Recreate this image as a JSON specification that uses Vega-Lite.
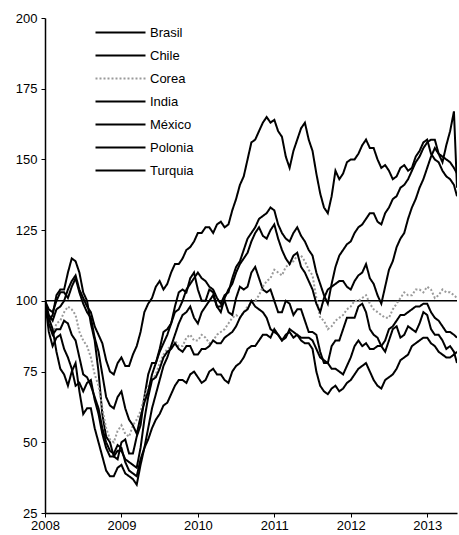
{
  "$schema": "https://vega.github.io/schema/vega-lite/v6.json",
  "width": 412,
  "height": 495,
  "autosize": "none",
  "padding": {"left": 45, "top": 18, "right": 2, "bottom": 22},
  "background": "white",
  "config": {
    "view": {"stroke": null},
    "font": "Liberation Sans",
    "axis": {"grid": false, "domainColor": "black", "domainWidth": 1.5, "tickColor": "black", "tickSize": 4, "labelColor": "black", "labelFontSize": 13, "labelFont": "Liberation Sans", "title": null},
    "legend": {"orient": "none", "legendX": 62, "legendY": 1, "symbolType": "M-2,0H2", "symbolSize": 625, "symbolStrokeWidth": 2, "labelFontSize": 13, "labelFont": "Liberation Sans", "labelColor": "black", "rowPadding": 2, "labelOffset": 16}
  },
  "datasets": {
    "series": [
      {"c":"Brasil","t":2008.0,"v":100},{"c":"Brasil","t":2008.1,"v":95},{"c":"Brasil","t":2008.2,"v":104},{"c":"Brasil","t":2008.3,"v":110},{"c":"Brasil","t":2008.4,"v":114},{"c":"Brasil","t":2008.5,"v":103},{"c":"Brasil","t":2008.6,"v":92},{"c":"Brasil","t":2008.7,"v":75},{"c":"Brasil","t":2008.8,"v":52},{"c":"Brasil","t":2008.9,"v":45},
      {"c":"Brasil","t":2009.0,"v":50},{"c":"Brasil","t":2009.1,"v":46},{"c":"Brasil","t":2009.2,"v":52},{"c":"Brasil","t":2009.3,"v":66},{"c":"Brasil","t":2009.4,"v":78},{"c":"Brasil","t":2009.5,"v":83},{"c":"Brasil","t":2009.6,"v":90},{"c":"Brasil","t":2009.7,"v":98},{"c":"Brasil","t":2009.8,"v":104},{"c":"Brasil","t":2009.9,"v":108},
      {"c":"Brasil","t":2010.0,"v":104},{"c":"Brasil","t":2010.1,"v":100},{"c":"Brasil","t":2010.2,"v":103},{"c":"Brasil","t":2010.3,"v":98},{"c":"Brasil","t":2010.4,"v":96},{"c":"Brasil","t":2010.5,"v":101},{"c":"Brasil","t":2010.6,"v":104},{"c":"Brasil","t":2010.7,"v":110},{"c":"Brasil","t":2010.8,"v":108},{"c":"Brasil","t":2010.9,"v":103},
      {"c":"Brasil","t":2011.0,"v":100},{"c":"Brasil","t":2011.1,"v":96},{"c":"Brasil","t":2011.2,"v":99},{"c":"Brasil","t":2011.3,"v":97},{"c":"Brasil","t":2011.4,"v":93},{"c":"Brasil","t":2011.5,"v":89},{"c":"Brasil","t":2011.6,"v":82},{"c":"Brasil","t":2011.7,"v":78},{"c":"Brasil","t":2011.8,"v":86},{"c":"Brasil","t":2011.9,"v":90},
      {"c":"Brasil","t":2012.0,"v":94},{"c":"Brasil","t":2012.1,"v":98},{"c":"Brasil","t":2012.2,"v":96},{"c":"Brasil","t":2012.3,"v":88},{"c":"Brasil","t":2012.4,"v":84},{"c":"Brasil","t":2012.5,"v":86},{"c":"Brasil","t":2012.6,"v":91},{"c":"Brasil","t":2012.7,"v":88},{"c":"Brasil","t":2012.8,"v":90},{"c":"Brasil","t":2012.9,"v":92},
      {"c":"Brasil","t":2013.0,"v":95},{"c":"Brasil","t":2013.1,"v":88},{"c":"Brasil","t":2013.2,"v":86},{"c":"Brasil","t":2013.3,"v":84},{"c":"Brasil","t":2013.39,"v":78},
      {"c":"Brasil","t":2008.05,"v":93},{"c":"Brasil","t":2008.15,"v":102},{"c":"Brasil","t":2008.25,"v":104},{"c":"Brasil","t":2008.35,"v":115},{"c":"Brasil","t":2008.45,"v":110},{"c":"Brasil","t":2008.55,"v":100},{"c":"Brasil","t":2008.65,"v":86},{"c":"Brasil","t":2008.75,"v":60},{"c":"Brasil","t":2008.85,"v":50},{"c":"Brasil","t":2008.95,"v":44},
      {"c":"Brasil","t":2009.05,"v":51},{"c":"Brasil","t":2009.15,"v":46},{"c":"Brasil","t":2009.25,"v":56},{"c":"Brasil","t":2009.35,"v":74},{"c":"Brasil","t":2009.45,"v":78},{"c":"Brasil","t":2009.55,"v":89},{"c":"Brasil","t":2009.65,"v":92},{"c":"Brasil","t":2009.75,"v":103},{"c":"Brasil","t":2009.85,"v":103},{"c":"Brasil","t":2009.95,"v":110},
      {"c":"Brasil","t":2010.05,"v":100},{"c":"Brasil","t":2010.15,"v":104},{"c":"Brasil","t":2010.25,"v":98},{"c":"Brasil","t":2010.35,"v":100},{"c":"Brasil","t":2010.45,"v":95},{"c":"Brasil","t":2010.55,"v":105},{"c":"Brasil","t":2010.65,"v":105},{"c":"Brasil","t":2010.75,"v":112},{"c":"Brasil","t":2010.85,"v":104},{"c":"Brasil","t":2010.95,"v":104},
      {"c":"Brasil","t":2011.05,"v":96},{"c":"Brasil","t":2011.15,"v":100},{"c":"Brasil","t":2011.25,"v":95},{"c":"Brasil","t":2011.35,"v":97},{"c":"Brasil","t":2011.45,"v":89},{"c":"Brasil","t":2011.55,"v":88},{"c":"Brasil","t":2011.65,"v":78},{"c":"Brasil","t":2011.75,"v":84},{"c":"Brasil","t":2011.85,"v":86},{"c":"Brasil","t":2011.95,"v":94},
      {"c":"Brasil","t":2012.05,"v":94},{"c":"Brasil","t":2012.15,"v":99},{"c":"Brasil","t":2012.25,"v":90},{"c":"Brasil","t":2012.35,"v":87},{"c":"Brasil","t":2012.45,"v":82},{"c":"Brasil","t":2012.55,"v":90},{"c":"Brasil","t":2012.65,"v":87},{"c":"Brasil","t":2012.75,"v":91},{"c":"Brasil","t":2012.85,"v":89},{"c":"Brasil","t":2012.95,"v":96},
      {"c":"Brasil","t":2013.05,"v":90},{"c":"Brasil","t":2013.15,"v":88},{"c":"Brasil","t":2013.25,"v":83},{"c":"Brasil","t":2013.35,"v":82},

      {"c":"Chile","t":2008.0,"v":100},{"c":"Chile","t":2008.1,"v":93},{"c":"Chile","t":2008.2,"v":98},{"c":"Chile","t":2008.3,"v":104},{"c":"Chile","t":2008.4,"v":109},{"c":"Chile","t":2008.5,"v":101},{"c":"Chile","t":2008.6,"v":96},{"c":"Chile","t":2008.7,"v":88},{"c":"Chile","t":2008.8,"v":79},{"c":"Chile","t":2008.9,"v":74},
      {"c":"Chile","t":2009.0,"v":80},{"c":"Chile","t":2009.1,"v":77},{"c":"Chile","t":2009.2,"v":84},{"c":"Chile","t":2009.3,"v":96},{"c":"Chile","t":2009.4,"v":101},{"c":"Chile","t":2009.5,"v":107},{"c":"Chile","t":2009.6,"v":106},{"c":"Chile","t":2009.7,"v":113},{"c":"Chile","t":2009.8,"v":115},{"c":"Chile","t":2009.9,"v":119},
      {"c":"Chile","t":2010.0,"v":124},{"c":"Chile","t":2010.1,"v":126},{"c":"Chile","t":2010.2,"v":124},{"c":"Chile","t":2010.3,"v":128},{"c":"Chile","t":2010.4,"v":127},{"c":"Chile","t":2010.5,"v":136},{"c":"Chile","t":2010.6,"v":144},{"c":"Chile","t":2010.7,"v":156},{"c":"Chile","t":2010.8,"v":160},{"c":"Chile","t":2010.9,"v":165},
      {"c":"Chile","t":2011.0,"v":164},{"c":"Chile","t":2011.1,"v":158},{"c":"Chile","t":2011.2,"v":147},{"c":"Chile","t":2011.3,"v":157},{"c":"Chile","t":2011.4,"v":163},{"c":"Chile","t":2011.5,"v":153},{"c":"Chile","t":2011.6,"v":138},{"c":"Chile","t":2011.7,"v":131},{"c":"Chile","t":2011.8,"v":146},{"c":"Chile","t":2011.9,"v":145},
      {"c":"Chile","t":2012.0,"v":150},{"c":"Chile","t":2012.1,"v":152},{"c":"Chile","t":2012.2,"v":157},{"c":"Chile","t":2012.3,"v":154},{"c":"Chile","t":2012.4,"v":147},{"c":"Chile","t":2012.5,"v":146},{"c":"Chile","t":2012.6,"v":144},{"c":"Chile","t":2012.7,"v":148},{"c":"Chile","t":2012.8,"v":147},{"c":"Chile","t":2012.9,"v":153},
      {"c":"Chile","t":2013.0,"v":157},{"c":"Chile","t":2013.1,"v":150},{"c":"Chile","t":2013.2,"v":146},{"c":"Chile","t":2013.3,"v":143},{"c":"Chile","t":2013.39,"v":137},
      {"c":"Chile","t":2008.05,"v":95},{"c":"Chile","t":2008.15,"v":97},{"c":"Chile","t":2008.25,"v":100},{"c":"Chile","t":2008.35,"v":107},{"c":"Chile","t":2008.45,"v":104},{"c":"Chile","t":2008.55,"v":98},{"c":"Chile","t":2008.65,"v":91},{"c":"Chile","t":2008.75,"v":85},{"c":"Chile","t":2008.85,"v":75},{"c":"Chile","t":2008.95,"v":78},
      {"c":"Chile","t":2009.05,"v":77},{"c":"Chile","t":2009.15,"v":81},{"c":"Chile","t":2009.25,"v":89},{"c":"Chile","t":2009.35,"v":99},{"c":"Chile","t":2009.45,"v":105},{"c":"Chile","t":2009.55,"v":104},{"c":"Chile","t":2009.65,"v":110},{"c":"Chile","t":2009.75,"v":113},{"c":"Chile","t":2009.85,"v":118},{"c":"Chile","t":2009.95,"v":121},
      {"c":"Chile","t":2010.05,"v":124},{"c":"Chile","t":2010.15,"v":126},{"c":"Chile","t":2010.25,"v":127},{"c":"Chile","t":2010.35,"v":126},{"c":"Chile","t":2010.45,"v":132},{"c":"Chile","t":2010.55,"v":141},{"c":"Chile","t":2010.65,"v":150},{"c":"Chile","t":2010.75,"v":157},{"c":"Chile","t":2010.85,"v":163},{"c":"Chile","t":2010.95,"v":163},
      {"c":"Chile","t":2011.05,"v":160},{"c":"Chile","t":2011.15,"v":151},{"c":"Chile","t":2011.25,"v":153},{"c":"Chile","t":2011.35,"v":161},{"c":"Chile","t":2011.45,"v":157},{"c":"Chile","t":2011.55,"v":145},{"c":"Chile","t":2011.65,"v":133},{"c":"Chile","t":2011.75,"v":137},{"c":"Chile","t":2011.85,"v":143},{"c":"Chile","t":2011.95,"v":149},
      {"c":"Chile","t":2012.05,"v":150},{"c":"Chile","t":2012.15,"v":155},{"c":"Chile","t":2012.25,"v":154},{"c":"Chile","t":2012.35,"v":150},{"c":"Chile","t":2012.45,"v":148},{"c":"Chile","t":2012.55,"v":143},{"c":"Chile","t":2012.65,"v":147},{"c":"Chile","t":2012.75,"v":146},{"c":"Chile","t":2012.85,"v":151},{"c":"Chile","t":2012.95,"v":156},
      {"c":"Chile","t":2013.05,"v":152},{"c":"Chile","t":2013.15,"v":149},{"c":"Chile","t":2013.25,"v":144},{"c":"Chile","t":2013.35,"v":141},

      {"c":"Corea","t":2008.0,"v":100},{"c":"Corea","t":2008.1,"v":88},{"c":"Corea","t":2008.2,"v":93},{"c":"Corea","t":2008.3,"v":98},{"c":"Corea","t":2008.4,"v":95},{"c":"Corea","t":2008.5,"v":86},{"c":"Corea","t":2008.6,"v":80},{"c":"Corea","t":2008.7,"v":70},{"c":"Corea","t":2008.8,"v":55},{"c":"Corea","t":2008.9,"v":50},
      {"c":"Corea","t":2009.0,"v":56},{"c":"Corea","t":2009.1,"v":52},{"c":"Corea","t":2009.2,"v":58},{"c":"Corea","t":2009.3,"v":66},{"c":"Corea","t":2009.4,"v":72},{"c":"Corea","t":2009.5,"v":78},{"c":"Corea","t":2009.6,"v":83},{"c":"Corea","t":2009.7,"v":86},{"c":"Corea","t":2009.8,"v":84},{"c":"Corea","t":2009.9,"v":88},
      {"c":"Corea","t":2010.0,"v":86},{"c":"Corea","t":2010.1,"v":87},{"c":"Corea","t":2010.2,"v":86},{"c":"Corea","t":2010.3,"v":89},{"c":"Corea","t":2010.4,"v":92},{"c":"Corea","t":2010.5,"v":95},{"c":"Corea","t":2010.6,"v":96},{"c":"Corea","t":2010.7,"v":99},{"c":"Corea","t":2010.8,"v":102},{"c":"Corea","t":2010.9,"v":107},
      {"c":"Corea","t":2011.0,"v":111},{"c":"Corea","t":2011.1,"v":109},{"c":"Corea","t":2011.2,"v":113},{"c":"Corea","t":2011.3,"v":116},{"c":"Corea","t":2011.4,"v":114},{"c":"Corea","t":2011.5,"v":109},{"c":"Corea","t":2011.6,"v":94},{"c":"Corea","t":2011.7,"v":90},{"c":"Corea","t":2011.8,"v":93},{"c":"Corea","t":2011.9,"v":95},
      {"c":"Corea","t":2012.0,"v":98},{"c":"Corea","t":2012.1,"v":100},{"c":"Corea","t":2012.2,"v":102},{"c":"Corea","t":2012.3,"v":97},{"c":"Corea","t":2012.4,"v":95},{"c":"Corea","t":2012.5,"v":94},{"c":"Corea","t":2012.6,"v":99},{"c":"Corea","t":2012.7,"v":103},{"c":"Corea","t":2012.8,"v":102},{"c":"Corea","t":2012.9,"v":104},
      {"c":"Corea","t":2013.0,"v":105},{"c":"Corea","t":2013.1,"v":101},{"c":"Corea","t":2013.2,"v":104},{"c":"Corea","t":2013.3,"v":103},{"c":"Corea","t":2013.39,"v":101},
      {"c":"Corea","t":2008.05,"v":92},{"c":"Corea","t":2008.15,"v":92},{"c":"Corea","t":2008.25,"v":96},{"c":"Corea","t":2008.35,"v":97},{"c":"Corea","t":2008.45,"v":89},{"c":"Corea","t":2008.55,"v":84},{"c":"Corea","t":2008.65,"v":74},{"c":"Corea","t":2008.75,"v":62},{"c":"Corea","t":2008.85,"v":51},{"c":"Corea","t":2008.95,"v":54},
      {"c":"Corea","t":2009.05,"v":53},{"c":"Corea","t":2009.15,"v":56},{"c":"Corea","t":2009.25,"v":61},{"c":"Corea","t":2009.35,"v":70},{"c":"Corea","t":2009.45,"v":74},{"c":"Corea","t":2009.55,"v":81},{"c":"Corea","t":2009.65,"v":84},{"c":"Corea","t":2009.75,"v":84},{"c":"Corea","t":2009.85,"v":87},{"c":"Corea","t":2009.95,"v":86},
      {"c":"Corea","t":2010.05,"v":88},{"c":"Corea","t":2010.15,"v":85},{"c":"Corea","t":2010.25,"v":88},{"c":"Corea","t":2010.35,"v":90},{"c":"Corea","t":2010.45,"v":94},{"c":"Corea","t":2010.55,"v":94},{"c":"Corea","t":2010.65,"v":98},{"c":"Corea","t":2010.75,"v":100},{"c":"Corea","t":2010.85,"v":105},{"c":"Corea","t":2010.95,"v":108},
      {"c":"Corea","t":2011.05,"v":110},{"c":"Corea","t":2011.15,"v":112},{"c":"Corea","t":2011.25,"v":114},{"c":"Corea","t":2011.35,"v":116},{"c":"Corea","t":2011.45,"v":111},{"c":"Corea","t":2011.55,"v":101},{"c":"Corea","t":2011.65,"v":93},{"c":"Corea","t":2011.75,"v":91},{"c":"Corea","t":2011.85,"v":94},{"c":"Corea","t":2011.95,"v":97},
      {"c":"Corea","t":2012.05,"v":100},{"c":"Corea","t":2012.15,"v":101},{"c":"Corea","t":2012.25,"v":99},{"c":"Corea","t":2012.35,"v":96},{"c":"Corea","t":2012.45,"v":94},{"c":"Corea","t":2012.55,"v":97},{"c":"Corea","t":2012.65,"v":101},{"c":"Corea","t":2012.75,"v":102},{"c":"Corea","t":2012.85,"v":104},{"c":"Corea","t":2012.95,"v":103},
      {"c":"Corea","t":2013.05,"v":104},{"c":"Corea","t":2013.15,"v":102},{"c":"Corea","t":2013.25,"v":103},{"c":"Corea","t":2013.35,"v":102},

      {"c":"India","t":2008.0,"v":100},{"c":"India","t":2008.1,"v":84},{"c":"India","t":2008.2,"v":88},{"c":"India","t":2008.3,"v":80},{"c":"India","t":2008.4,"v":70},{"c":"India","t":2008.5,"v":68},{"c":"India","t":2008.6,"v":72},{"c":"India","t":2008.7,"v":60},{"c":"India","t":2008.8,"v":48},{"c":"India","t":2008.9,"v":45},
      {"c":"India","t":2009.0,"v":47},{"c":"India","t":2009.1,"v":43},{"c":"India","t":2009.2,"v":41},{"c":"India","t":2009.3,"v":58},{"c":"India","t":2009.4,"v":72},{"c":"India","t":2009.5,"v":76},{"c":"India","t":2009.6,"v":82},{"c":"India","t":2009.7,"v":85},{"c":"India","t":2009.8,"v":82},{"c":"India","t":2009.9,"v":84},
      {"c":"India","t":2010.0,"v":81},{"c":"India","t":2010.1,"v":83},{"c":"India","t":2010.2,"v":86},{"c":"India","t":2010.3,"v":85},{"c":"India","t":2010.4,"v":88},{"c":"India","t":2010.5,"v":91},{"c":"India","t":2010.6,"v":96},{"c":"India","t":2010.7,"v":100},{"c":"India","t":2010.8,"v":97},{"c":"India","t":2010.9,"v":94},
      {"c":"India","t":2011.0,"v":89},{"c":"India","t":2011.1,"v":86},{"c":"India","t":2011.2,"v":90},{"c":"India","t":2011.3,"v":88},{"c":"India","t":2011.4,"v":87},{"c":"India","t":2011.5,"v":86},{"c":"India","t":2011.6,"v":80},{"c":"India","t":2011.7,"v":78},{"c":"India","t":2011.8,"v":76},{"c":"India","t":2011.9,"v":74},
      {"c":"India","t":2012.0,"v":80},{"c":"India","t":2012.1,"v":86},{"c":"India","t":2012.2,"v":85},{"c":"India","t":2012.3,"v":83},{"c":"India","t":2012.4,"v":84},{"c":"India","t":2012.5,"v":90},{"c":"India","t":2012.6,"v":93},{"c":"India","t":2012.7,"v":95},{"c":"India","t":2012.8,"v":97},{"c":"India","t":2012.9,"v":98},
      {"c":"India","t":2013.0,"v":99},{"c":"India","t":2013.1,"v":94},{"c":"India","t":2013.2,"v":91},{"c":"India","t":2013.3,"v":89},{"c":"India","t":2013.39,"v":87},
      {"c":"India","t":2008.05,"v":89},{"c":"India","t":2008.15,"v":87},{"c":"India","t":2008.25,"v":83},{"c":"India","t":2008.35,"v":76},{"c":"India","t":2008.45,"v":71},{"c":"India","t":2008.55,"v":71},{"c":"India","t":2008.65,"v":65},{"c":"India","t":2008.75,"v":53},{"c":"India","t":2008.85,"v":45},{"c":"India","t":2008.95,"v":47},
      {"c":"India","t":2009.05,"v":44},{"c":"India","t":2009.15,"v":42},{"c":"India","t":2009.25,"v":48},{"c":"India","t":2009.35,"v":66},{"c":"India","t":2009.45,"v":73},{"c":"India","t":2009.55,"v":80},{"c":"India","t":2009.65,"v":83},{"c":"India","t":2009.75,"v":83},{"c":"India","t":2009.85,"v":84},{"c":"India","t":2009.95,"v":81},
      {"c":"India","t":2010.05,"v":83},{"c":"India","t":2010.15,"v":84},{"c":"India","t":2010.25,"v":85},{"c":"India","t":2010.35,"v":87},{"c":"India","t":2010.45,"v":89},{"c":"India","t":2010.55,"v":94},{"c":"India","t":2010.65,"v":97},{"c":"India","t":2010.75,"v":98},{"c":"India","t":2010.85,"v":96},{"c":"India","t":2010.95,"v":90},
      {"c":"India","t":2011.05,"v":88},{"c":"India","t":2011.15,"v":87},{"c":"India","t":2011.25,"v":89},{"c":"India","t":2011.35,"v":87},{"c":"India","t":2011.45,"v":87},{"c":"India","t":2011.55,"v":83},{"c":"India","t":2011.65,"v":79},{"c":"India","t":2011.75,"v":76},{"c":"India","t":2011.85,"v":75},{"c":"India","t":2011.95,"v":77},
      {"c":"India","t":2012.05,"v":84},{"c":"India","t":2012.15,"v":84},{"c":"India","t":2012.25,"v":83},{"c":"India","t":2012.35,"v":84},{"c":"India","t":2012.45,"v":86},{"c":"India","t":2012.55,"v":91},{"c":"India","t":2012.65,"v":95},{"c":"India","t":2012.75,"v":96},{"c":"India","t":2012.85,"v":98},{"c":"India","t":2012.95,"v":99},
      {"c":"India","t":2013.05,"v":96},{"c":"India","t":2013.15,"v":93},{"c":"India","t":2013.25,"v":89},{"c":"India","t":2013.35,"v":88},

      {"c":"México","t":2008.0,"v":100},{"c":"México","t":2008.1,"v":90},{"c":"México","t":2008.2,"v":76},{"c":"México","t":2008.3,"v":70},{"c":"México","t":2008.4,"v":78},{"c":"México","t":2008.5,"v":60},{"c":"México","t":2008.6,"v":62},{"c":"México","t":2008.7,"v":50},{"c":"México","t":2008.8,"v":40},{"c":"México","t":2008.9,"v":38},
      {"c":"México","t":2009.0,"v":42},{"c":"México","t":2009.1,"v":38},{"c":"México","t":2009.2,"v":35},{"c":"México","t":2009.3,"v":48},{"c":"México","t":2009.4,"v":62},{"c":"México","t":2009.5,"v":72},{"c":"México","t":2009.6,"v":80},{"c":"México","t":2009.7,"v":88},{"c":"México","t":2009.8,"v":95},{"c":"México","t":2009.9,"v":98},
      {"c":"México","t":2010.0,"v":92},{"c":"México","t":2010.1,"v":98},{"c":"México","t":2010.2,"v":102},{"c":"México","t":2010.3,"v":96},{"c":"México","t":2010.4,"v":104},{"c":"México","t":2010.5,"v":110},{"c":"México","t":2010.6,"v":115},{"c":"México","t":2010.7,"v":121},{"c":"México","t":2010.8,"v":126},{"c":"México","t":2010.9,"v":122},
      {"c":"México","t":2011.0,"v":127},{"c":"México","t":2011.1,"v":118},{"c":"México","t":2011.2,"v":113},{"c":"México","t":2011.3,"v":117},{"c":"México","t":2011.4,"v":110},{"c":"México","t":2011.5,"v":104},{"c":"México","t":2011.6,"v":96},{"c":"México","t":2011.7,"v":104},{"c":"México","t":2011.8,"v":106},{"c":"México","t":2011.9,"v":107},
      {"c":"México","t":2012.0,"v":104},{"c":"México","t":2012.1,"v":109},{"c":"México","t":2012.2,"v":113},{"c":"México","t":2012.3,"v":106},{"c":"México","t":2012.4,"v":99},{"c":"México","t":2012.5,"v":111},{"c":"México","t":2012.6,"v":119},{"c":"México","t":2012.7,"v":124},{"c":"México","t":2012.8,"v":133},{"c":"México","t":2012.9,"v":140},
      {"c":"México","t":2013.0,"v":147},{"c":"México","t":2013.1,"v":154},{"c":"México","t":2013.2,"v":151},{"c":"México","t":2013.3,"v":149},{"c":"México","t":2013.39,"v":145},
      {"c":"México","t":2008.05,"v":94},{"c":"México","t":2008.15,"v":82},{"c":"México","t":2008.25,"v":74},{"c":"México","t":2008.35,"v":75},{"c":"México","t":2008.45,"v":68},{"c":"México","t":2008.55,"v":62},{"c":"México","t":2008.65,"v":55},{"c":"México","t":2008.75,"v":45},{"c":"México","t":2008.85,"v":38},{"c":"México","t":2008.95,"v":41},
      {"c":"México","t":2009.05,"v":39},{"c":"México","t":2009.15,"v":37},{"c":"México","t":2009.25,"v":42},{"c":"México","t":2009.35,"v":55},{"c":"México","t":2009.45,"v":67},{"c":"México","t":2009.55,"v":77},{"c":"México","t":2009.65,"v":84},{"c":"México","t":2009.75,"v":92},{"c":"México","t":2009.85,"v":96},{"c":"México","t":2009.95,"v":94},
      {"c":"México","t":2010.05,"v":96},{"c":"México","t":2010.15,"v":100},{"c":"México","t":2010.25,"v":98},{"c":"México","t":2010.35,"v":101},{"c":"México","t":2010.45,"v":106},{"c":"México","t":2010.55,"v":113},{"c":"México","t":2010.65,"v":117},{"c":"México","t":2010.75,"v":124},{"c":"México","t":2010.85,"v":123},{"c":"México","t":2010.95,"v":125},
      {"c":"México","t":2011.05,"v":122},{"c":"México","t":2011.15,"v":115},{"c":"México","t":2011.25,"v":116},{"c":"México","t":2011.35,"v":112},{"c":"México","t":2011.45,"v":107},{"c":"México","t":2011.55,"v":99},{"c":"México","t":2011.65,"v":101},{"c":"México","t":2011.75,"v":105},{"c":"México","t":2011.85,"v":107},{"c":"México","t":2011.95,"v":105},
      {"c":"México","t":2012.05,"v":107},{"c":"México","t":2012.15,"v":110},{"c":"México","t":2012.25,"v":108},{"c":"México","t":2012.35,"v":102},{"c":"México","t":2012.45,"v":105},{"c":"México","t":2012.55,"v":114},{"c":"México","t":2012.65,"v":122},{"c":"México","t":2012.75,"v":129},{"c":"México","t":2012.85,"v":136},{"c":"México","t":2012.95,"v":143},
      {"c":"México","t":2013.05,"v":151},{"c":"México","t":2013.15,"v":152},{"c":"México","t":2013.25,"v":150},{"c":"México","t":2013.35,"v":147},

      {"c":"Polonia","t":2008.0,"v":100},{"c":"Polonia","t":2008.1,"v":88},{"c":"Polonia","t":2008.2,"v":90},{"c":"Polonia","t":2008.3,"v":92},{"c":"Polonia","t":2008.4,"v":86},{"c":"Polonia","t":2008.5,"v":74},{"c":"Polonia","t":2008.6,"v":70},{"c":"Polonia","t":2008.7,"v":62},{"c":"Polonia","t":2008.8,"v":50},{"c":"Polonia","t":2008.9,"v":46},
      {"c":"Polonia","t":2009.0,"v":48},{"c":"Polonia","t":2009.1,"v":40},{"c":"Polonia","t":2009.2,"v":38},{"c":"Polonia","t":2009.3,"v":48},{"c":"Polonia","t":2009.4,"v":55},{"c":"Polonia","t":2009.5,"v":60},{"c":"Polonia","t":2009.6,"v":64},{"c":"Polonia","t":2009.7,"v":70},{"c":"Polonia","t":2009.8,"v":72},{"c":"Polonia","t":2009.9,"v":74},
      {"c":"Polonia","t":2010.0,"v":73},{"c":"Polonia","t":2010.1,"v":72},{"c":"Polonia","t":2010.2,"v":76},{"c":"Polonia","t":2010.3,"v":74},{"c":"Polonia","t":2010.4,"v":71},{"c":"Polonia","t":2010.5,"v":77},{"c":"Polonia","t":2010.6,"v":80},{"c":"Polonia","t":2010.7,"v":84},{"c":"Polonia","t":2010.8,"v":86},{"c":"Polonia","t":2010.9,"v":88},
      {"c":"Polonia","t":2011.0,"v":90},{"c":"Polonia","t":2011.1,"v":86},{"c":"Polonia","t":2011.2,"v":89},{"c":"Polonia","t":2011.3,"v":88},{"c":"Polonia","t":2011.4,"v":85},{"c":"Polonia","t":2011.5,"v":83},{"c":"Polonia","t":2011.6,"v":70},{"c":"Polonia","t":2011.7,"v":67},{"c":"Polonia","t":2011.8,"v":70},{"c":"Polonia","t":2011.9,"v":69},
      {"c":"Polonia","t":2012.0,"v":72},{"c":"Polonia","t":2012.1,"v":76},{"c":"Polonia","t":2012.2,"v":78},{"c":"Polonia","t":2012.3,"v":72},{"c":"Polonia","t":2012.4,"v":69},{"c":"Polonia","t":2012.5,"v":73},{"c":"Polonia","t":2012.6,"v":76},{"c":"Polonia","t":2012.7,"v":80},{"c":"Polonia","t":2012.8,"v":84},{"c":"Polonia","t":2012.9,"v":86},
      {"c":"Polonia","t":2013.0,"v":87},{"c":"Polonia","t":2013.1,"v":84},{"c":"Polonia","t":2013.2,"v":81},{"c":"Polonia","t":2013.3,"v":80},{"c":"Polonia","t":2013.39,"v":82},
      {"c":"Polonia","t":2008.05,"v":92},{"c":"Polonia","t":2008.15,"v":90},{"c":"Polonia","t":2008.25,"v":93},{"c":"Polonia","t":2008.35,"v":88},{"c":"Polonia","t":2008.45,"v":80},{"c":"Polonia","t":2008.55,"v":73},{"c":"Polonia","t":2008.65,"v":66},{"c":"Polonia","t":2008.75,"v":55},{"c":"Polonia","t":2008.85,"v":47},{"c":"Polonia","t":2008.95,"v":49},
      {"c":"Polonia","t":2009.05,"v":43},{"c":"Polonia","t":2009.15,"v":39},{"c":"Polonia","t":2009.25,"v":44},{"c":"Polonia","t":2009.35,"v":51},{"c":"Polonia","t":2009.45,"v":58},{"c":"Polonia","t":2009.55,"v":63},{"c":"Polonia","t":2009.65,"v":67},{"c":"Polonia","t":2009.75,"v":72},{"c":"Polonia","t":2009.85,"v":71},{"c":"Polonia","t":2009.95,"v":75},
      {"c":"Polonia","t":2010.05,"v":71},{"c":"Polonia","t":2010.15,"v":75},{"c":"Polonia","t":2010.25,"v":74},{"c":"Polonia","t":2010.35,"v":72},{"c":"Polonia","t":2010.45,"v":75},{"c":"Polonia","t":2010.55,"v":78},{"c":"Polonia","t":2010.65,"v":83},{"c":"Polonia","t":2010.75,"v":84},{"c":"Polonia","t":2010.85,"v":88},{"c":"Polonia","t":2010.95,"v":87},
      {"c":"Polonia","t":2011.05,"v":88},{"c":"Polonia","t":2011.15,"v":88},{"c":"Polonia","t":2011.25,"v":87},{"c":"Polonia","t":2011.35,"v":86},{"c":"Polonia","t":2011.45,"v":85},{"c":"Polonia","t":2011.55,"v":75},{"c":"Polonia","t":2011.65,"v":68},{"c":"Polonia","t":2011.75,"v":69},{"c":"Polonia","t":2011.85,"v":68},{"c":"Polonia","t":2011.95,"v":71},
      {"c":"Polonia","t":2012.05,"v":74},{"c":"Polonia","t":2012.15,"v":77},{"c":"Polonia","t":2012.25,"v":75},{"c":"Polonia","t":2012.35,"v":70},{"c":"Polonia","t":2012.45,"v":72},{"c":"Polonia","t":2012.55,"v":74},{"c":"Polonia","t":2012.65,"v":79},{"c":"Polonia","t":2012.75,"v":81},{"c":"Polonia","t":2012.85,"v":85},{"c":"Polonia","t":2012.95,"v":87},
      {"c":"Polonia","t":2013.05,"v":85},{"c":"Polonia","t":2013.15,"v":82},{"c":"Polonia","t":2013.25,"v":80},{"c":"Polonia","t":2013.35,"v":81},

      {"c":"Turquia","t":2008.0,"v":100},{"c":"Turquia","t":2008.1,"v":96},{"c":"Turquia","t":2008.2,"v":103},{"c":"Turquia","t":2008.3,"v":101},{"c":"Turquia","t":2008.4,"v":108},{"c":"Turquia","t":2008.5,"v":99},{"c":"Turquia","t":2008.6,"v":94},{"c":"Turquia","t":2008.7,"v":82},{"c":"Turquia","t":2008.8,"v":66},{"c":"Turquia","t":2008.9,"v":62},
      {"c":"Turquia","t":2009.0,"v":68},{"c":"Turquia","t":2009.1,"v":58},{"c":"Turquia","t":2009.2,"v":53},{"c":"Turquia","t":2009.3,"v":64},{"c":"Turquia","t":2009.4,"v":74},{"c":"Turquia","t":2009.5,"v":82},{"c":"Turquia","t":2009.6,"v":88},{"c":"Turquia","t":2009.7,"v":96},{"c":"Turquia","t":2009.8,"v":100},{"c":"Turquia","t":2009.9,"v":106},
      {"c":"Turquia","t":2010.0,"v":110},{"c":"Turquia","t":2010.1,"v":107},{"c":"Turquia","t":2010.2,"v":104},{"c":"Turquia","t":2010.3,"v":99},{"c":"Turquia","t":2010.4,"v":103},{"c":"Turquia","t":2010.5,"v":112},{"c":"Turquia","t":2010.6,"v":118},{"c":"Turquia","t":2010.7,"v":124},{"c":"Turquia","t":2010.8,"v":129},{"c":"Turquia","t":2010.9,"v":131},
      {"c":"Turquia","t":2011.0,"v":132},{"c":"Turquia","t":2011.1,"v":124},{"c":"Turquia","t":2011.2,"v":121},{"c":"Turquia","t":2011.3,"v":126},{"c":"Turquia","t":2011.4,"v":121},{"c":"Turquia","t":2011.5,"v":116},{"c":"Turquia","t":2011.6,"v":106},{"c":"Turquia","t":2011.7,"v":99},{"c":"Turquia","t":2011.8,"v":112},{"c":"Turquia","t":2011.9,"v":118},
      {"c":"Turquia","t":2012.0,"v":121},{"c":"Turquia","t":2012.1,"v":126},{"c":"Turquia","t":2012.2,"v":129},{"c":"Turquia","t":2012.3,"v":131},{"c":"Turquia","t":2012.4,"v":127},{"c":"Turquia","t":2012.5,"v":133},{"c":"Turquia","t":2012.6,"v":137},{"c":"Turquia","t":2012.7,"v":141},{"c":"Turquia","t":2012.8,"v":146},{"c":"Turquia","t":2012.9,"v":151},
      {"c":"Turquia","t":2013.0,"v":156},{"c":"Turquia","t":2013.1,"v":157},{"c":"Turquia","t":2013.2,"v":149},{"c":"Turquia","t":2013.3,"v":160},{"c":"Turquia","t":2013.35,"v":167},{"c":"Turquia","t":2013.39,"v":140},
      {"c":"Turquia","t":2008.05,"v":97},{"c":"Turquia","t":2008.15,"v":100},{"c":"Turquia","t":2008.25,"v":103},{"c":"Turquia","t":2008.35,"v":105},{"c":"Turquia","t":2008.45,"v":103},{"c":"Turquia","t":2008.55,"v":96},{"c":"Turquia","t":2008.65,"v":87},{"c":"Turquia","t":2008.75,"v":74},{"c":"Turquia","t":2008.85,"v":63},{"c":"Turquia","t":2008.95,"v":66},
      {"c":"Turquia","t":2009.05,"v":62},{"c":"Turquia","t":2009.15,"v":56},{"c":"Turquia","t":2009.25,"v":59},{"c":"Turquia","t":2009.35,"v":68},{"c":"Turquia","t":2009.45,"v":78},{"c":"Turquia","t":2009.55,"v":85},{"c":"Turquia","t":2009.65,"v":92},{"c":"Turquia","t":2009.75,"v":97},{"c":"Turquia","t":2009.85,"v":104},{"c":"Turquia","t":2009.95,"v":108},
      {"c":"Turquia","t":2010.05,"v":108},{"c":"Turquia","t":2010.15,"v":105},{"c":"Turquia","t":2010.25,"v":101},{"c":"Turquia","t":2010.35,"v":102},{"c":"Turquia","t":2010.45,"v":108},{"c":"Turquia","t":2010.55,"v":114},{"c":"Turquia","t":2010.65,"v":122},{"c":"Turquia","t":2010.75,"v":126},{"c":"Turquia","t":2010.85,"v":130},{"c":"Turquia","t":2010.95,"v":133},
      {"c":"Turquia","t":2011.05,"v":127},{"c":"Turquia","t":2011.15,"v":122},{"c":"Turquia","t":2011.25,"v":124},{"c":"Turquia","t":2011.35,"v":123},{"c":"Turquia","t":2011.45,"v":118},{"c":"Turquia","t":2011.55,"v":110},{"c":"Turquia","t":2011.65,"v":102},{"c":"Turquia","t":2011.75,"v":106},{"c":"Turquia","t":2011.85,"v":116},{"c":"Turquia","t":2011.95,"v":120},
      {"c":"Turquia","t":2012.05,"v":124},{"c":"Turquia","t":2012.15,"v":127},{"c":"Turquia","t":2012.25,"v":131},{"c":"Turquia","t":2012.35,"v":128},{"c":"Turquia","t":2012.45,"v":131},{"c":"Turquia","t":2012.55,"v":136},{"c":"Turquia","t":2012.65,"v":140},{"c":"Turquia","t":2012.75,"v":143},{"c":"Turquia","t":2012.85,"v":149},{"c":"Turquia","t":2012.95,"v":154},
      {"c":"Turquia","t":2013.05,"v":157},{"c":"Turquia","t":2013.15,"v":152},{"c":"Turquia","t":2013.25,"v":155}
    ],
    "ref": [{"y": 100}]
  },
  "layer": [
    {
      "data": {"name": "ref"},
      "mark": {"type": "rule", "color": "black", "strokeWidth": 1.5},
      "encoding": {"y": {"field": "y", "type": "quantitative", "scale": {"domain": [25, 200]}}}
    },
    {
      "data": {"name": "series"},
      "mark": {"type": "line", "strokeWidth": 2, "clip": true},
      "encoding": {
        "x": {"field": "t", "type": "quantitative", "scale": {"domain": [2008, 2013.39], "nice": false, "zero": false},
              "axis": {"values": [2008, 2009, 2010, 2011, 2012, 2013], "format": "d", "labelFlush": false}},
        "y": {"field": "v", "type": "quantitative", "scale": {"domain": [25, 200], "nice": false, "zero": false},
              "axis": {"values": [25, 50, 75, 100, 125, 150, 175, 200], "labelPadding": 4}},
        "color": {"field": "c", "type": "nominal",
                  "scale": {"domain": ["Brasil", "Chile", "Corea", "India", "México", "Polonia", "Turquia"],
                            "range": ["#000000", "#000000", "#9a9a9a", "#000000", "#000000", "#000000", "#000000"]},
                  "legend": {"title": null}},
        "strokeDash": {"field": "c", "type": "nominal",
                  "scale": {"domain": ["Brasil", "Chile", "Corea", "India", "México", "Polonia", "Turquia"],
                            "range": [[1, 0], [1, 0], [2, 2], [1, 0], [1, 0], [1, 0], [1, 0]]},
                  "legend": {"title": null}}
      }
    }
  ],
  "resolve": {"scale": {"y": "shared"}}
}
